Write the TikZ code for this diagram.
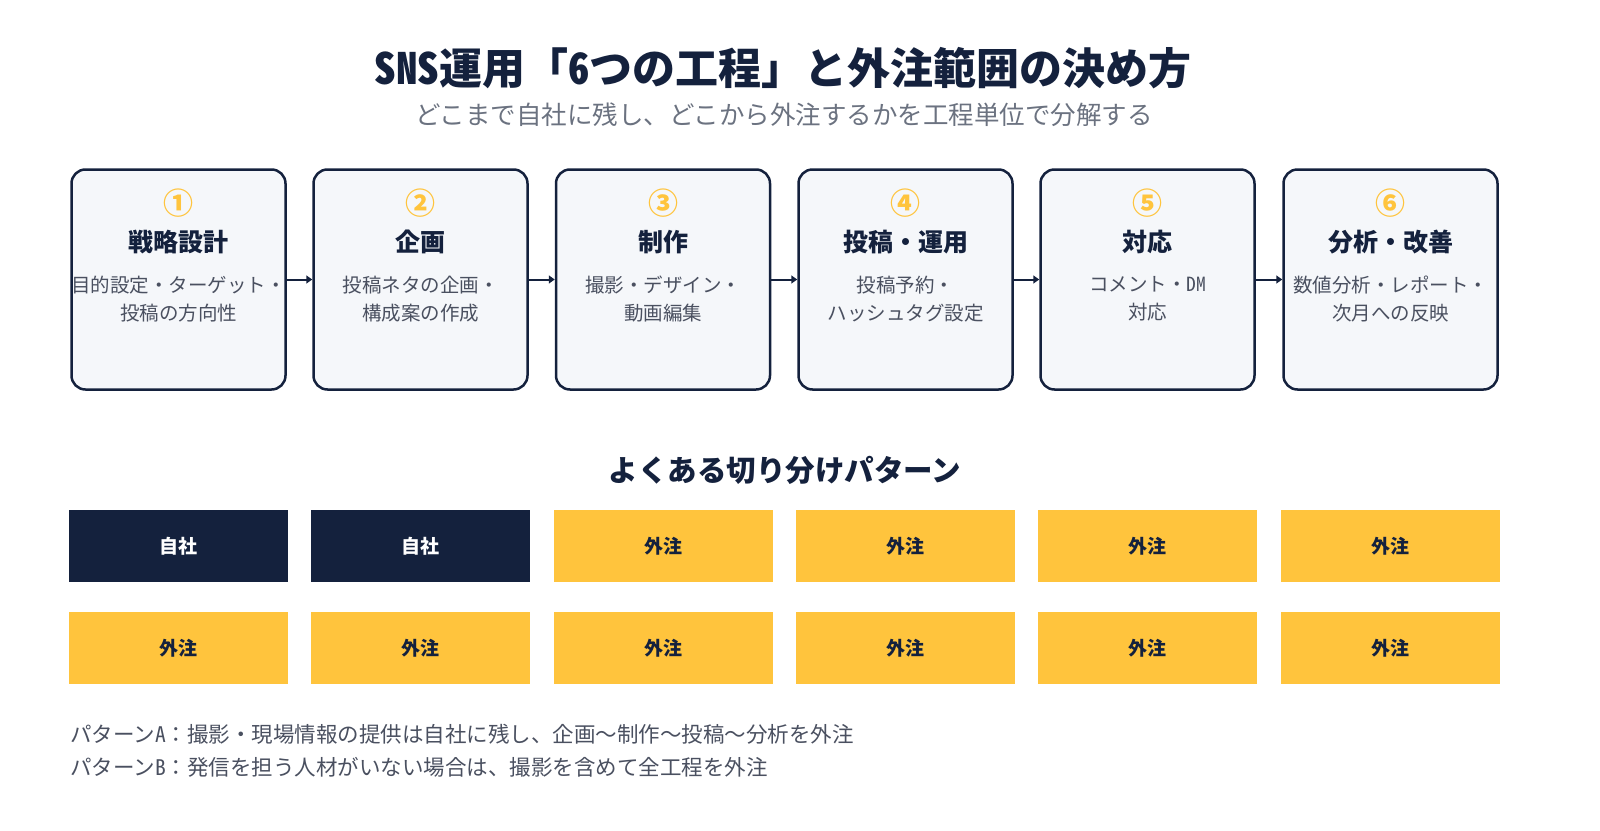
\documentclass[tikz,border=0pt]{standalone}
\usepackage{fontspec}
\setmainfont{Noto Sans CJK JP}
\newfontfamily\halfw{Noto Sans CJK JP}[RawFeature=+hwid]
\usetikzlibrary{positioning,arrows.meta}

\definecolor{navy}{HTML}{14213D}
\definecolor{gold}{HTML}{FFC43D}
\definecolor{boxbg}{HTML}{F5F7FA}
\definecolor{txtgray}{HTML}{4A5060}
\definecolor{subgray}{HTML}{6B7280}

\newcommand{\fs}[1]{\fontsize{#1}{#1}\selectfont}
\newcommand{\hw}[1]{{\halfw #1}}

\tikzset{
  stepbox/.style={draw=navy, line width=2.5pt, rounded corners=14pt, fill=boxbg,
    minimum width=214pt, minimum height=220pt},
  numtxt/.style={text=gold, font=\fs{30}\bfseries, inner sep=0pt},
  steptitle/.style={text=navy, font=\fs{25}\bfseries, inner sep=0pt},
  stepdesc/.style={text=txtgray, font=\fontsize{19.5}{28}\selectfont, align=center, inner sep=0pt},
  flow/.style={draw=navy, line width=2pt, -{Triangle[length=6pt, width=8pt]}},
  inhouse/.style={fill=navy, text=white, font=\fs{19}\bfseries,
    minimum width=219pt, minimum height=72pt, inner sep=0pt},
  outsource/.style={fill=gold, text=navy, font=\fs{19}\bfseries,
    minimum width=219pt, minimum height=72pt, inner sep=0pt},
  note/.style={text=txtgray, font=\fs{21.5}, anchor=west, inner sep=0pt}
}

\begin{document}
\begin{tikzpicture}[x=1pt, y=-1pt]
  \useasboundingbox (0,0) rectangle (1600,830);

  % title
  \node[text=navy, font=\fs{43}\bfseries] (title) at (783,68) {\hw{SNS}運用「\hw{6}つの工程」と外注範囲の決め方};
  \node[text=subgray, font=\fs{25.5}] (subtitle) at (784,115) {どこまで自社に残し、どこから外注するかを工程単位で分解する};

  % six steps
  \foreach \i/\x/\num/\ttl/\desc in {
      1/178.5/①/戦略設計/{目的設定・ターゲット・\\投稿の方向性},
      2/420.5/②/企画/{投稿ネタの企画・\\構成案の作成},
      3/663/③/制作/{撮影・デザイン・\\動画編集},
      4/905.5/④/投稿・運用/{投稿予約・\\ハッシュタグ設定},
      5/1147.5/⑤/対応/{コメント・\hw{DM}\\対応},
      6/1390.5/⑥/分析・改善/{数値分析・レポート・\\次月への反映}} {
    \node[stepbox] (s\i) at (\x,279.5) {};
    \node[numtxt] (n\i) at (\x,203) {\num};
    \node[steptitle] (t\i) at (\x,242) {\ttl};
    \node[stepdesc] (d\i) at (\x,299) {\desc};
  }
  \foreach \a/\b in {1/2, 2/3, 3/4, 4/5, 5/6}
    \draw[flow] (s\a.east) -- (s\b.west);

  % patterns
  \node[text=navy, font=\fs{29.5}\bfseries] (ptitle) at (785,470) {よくある切り分けパターン};
  \foreach \i/\x/\st/\lbl in {1/178.5/inhouse/自社, 2/420.5/inhouse/自社, 3/663/outsource/外注,
      4/905.5/outsource/外注, 5/1147.5/outsource/外注, 6/1390/outsource/外注} {
    \node[\st] (pa\i) at (\x,546) {\lbl};
    \node[outsource] (pb\i) at (\x,648) {外注};
  }

  % notes
  \node[note] (noteA) at (70,734) {パターン\hw{A}：撮影・現場情報の提供は自社に残し、企画〜制作〜投稿〜分析を外注};
  \node[note] (noteB) at (70,767) {パターン\hw{B}：発信を担う人材がいない場合は、撮影を含めて全工程を外注};
\end{tikzpicture}
\end{document}
